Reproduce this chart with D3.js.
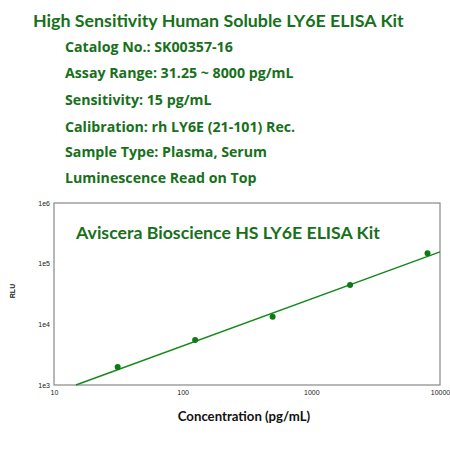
<!DOCTYPE html>
<html>
<head>
<meta charset="utf-8">
<script src="https://cdn.jsdelivr.net/npm/d3@7"></script>
<style>
  body { margin: 0; background: #fff; }
</style>
</head>
<body>
<div id="container"></div>
<script>
// standard curve
var concentrations = [31.25, 125, 500, 2000, 8000]
var rlu = [1980, 5500, 13300, 44500, 148000]
// fitted line end points
var fitConc = [14.8, 10000]
var fitRlu = [1000, 156000]

var xTicks = [10, 100, 1000, 10000]
var yTicks = [1e3, 1e4, 1e5, 1e6]
var yTickLabels = ['1e3', '1e4', '1e5', '1e6']

var headerLines = [
  'Catalog No.: SK00357-16',
  'Assay Range: 31.25 ~ 8000 pg/mL',
  'Sensitivity: 15 pg/mL',
  'Calibration: rh LY6E (21-101) Rec.',
  'Sample Type: Plasma, Serum',
  'Luminescence Read on Top'
]
var headerY = [52, 78, 105, 132, 157, 183]

var green = '#17701a'
var plotLeft = 54, plotRight = 440, plotTop = 203, plotBottom = 385

var svg = d3.select('#container').append('svg')
  .attr('width', 450).attr('height', 450)
  .attr('font-family', 'Lato, sans-serif')

svg.append('text')
  .attr('x', 33).attr('y', 27)
  .attr('font-size', 17.8).attr('font-weight', 'bold')
  .attr('fill', green)
  .text('High Sensitivity Human Soluble LY6E ELISA Kit')

svg.selectAll('text.info')
  .data(headerLines)
  .enter().append('text')
  .attr('class', 'info')
  .attr('x', 65)
  .attr('y', function (d, i) { return headerY[i] })
  .attr('font-family', '"Open Sans", sans-serif')
  .attr('font-size', 14.2).attr('font-weight', 'bold')
  .attr('fill', green)
  .text(function (d) { return d })

var x = d3.scaleLog().domain([10, 10000]).range([plotLeft, plotRight])
var y = d3.scaleLog().domain([1e3, 1e6]).range([plotBottom, plotTop])

// frame
svg.append('rect')
  .attr('x', plotLeft).attr('y', plotTop)
  .attr('width', plotRight - plotLeft).attr('height', plotBottom - plotTop)
  .attr('fill', 'none').attr('stroke', '#888').attr('stroke-width', 1.2)

svg.append('g')
  .attr('transform', 'translate(0,' + plotBottom + ')')
  .call(d3.axisBottom(x).tickValues(xTicks).tickSize(0).tickPadding(5)
    .tickFormat(d3.format('d')))
  .call(function (g) {
    g.select('.domain').remove()
    g.selectAll('text').attr('font-size', 7).attr('fill', '#222')
      .attr('font-family', 'Liberation Sans, sans-serif')
  })

svg.append('g')
  .attr('transform', 'translate(' + plotLeft + ',0)')
  .call(d3.axisLeft(y).tickValues(yTicks).tickSize(0).tickPadding(4)
    .tickFormat(function (d, i) { return yTickLabels[i] }))
  .call(function (g) {
    g.select('.domain').remove()
    g.selectAll('text').attr('font-size', 7).attr('fill', '#222')
      .attr('font-family', 'Liberation Sans, sans-serif')
  })

svg.append('text')
  .attr('x', 76).attr('y', 239)
  .attr('font-size', 17.7).attr('font-weight', 'bold')
  .attr('fill', green)
  .text('Aviscera Bioscience HS LY6E ELISA Kit')

var line = d3.line()
  .x(function (d) { return x(d[0]) })
  .y(function (d) { return y(d[1]) })

svg.append('path')
  .datum(d3.zip(fitConc, fitRlu))
  .attr('d', line)
  .attr('fill', 'none').attr('stroke', '#13891a').attr('stroke-width', 1.4)

svg.selectAll('circle.pt')
  .data(d3.zip(concentrations, rlu))
  .enter().append('circle')
  .attr('class', 'pt')
  .attr('cx', function (d) { return x(d[0]) })
  .attr('cy', function (d) { return y(d[1]) })
  .attr('r', 3)
  .attr('fill', '#0d7a12')

svg.append('text')
  .attr('x', 244).attr('y', 421)
  .attr('text-anchor', 'middle')
  .attr('font-size', 13.2).attr('font-weight', 'bold').attr('fill', '#111')
  .text('Concentration (pg/mL)')

svg.append('text')
  .attr('transform', 'translate(15,291) rotate(-90)')
  .attr('text-anchor', 'middle')
  .attr('font-size', 7).attr('font-weight', 'bold').attr('fill', '#222')
  .attr('font-family', 'Liberation Sans, sans-serif')
  .text('RLU')
</script>
</body>
</html>
